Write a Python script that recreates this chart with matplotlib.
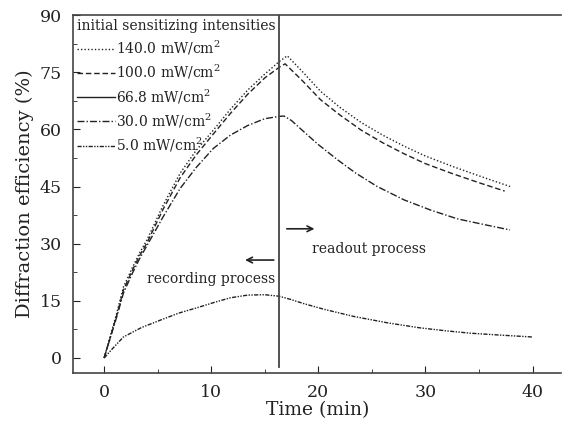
import numpy as np
import matplotlib
matplotlib.use("Agg")
import matplotlib.pyplot as plt
from matplotlib.ticker import MultipleLocator

plt.rcParams['font.family'] = 'DejaVu Serif'
plt.rcParams['mathtext.fontset'] = 'dejavuserif'

INK = '#222222'

# curves (time in min, efficiency in %)
t_140 = [0, 0.6, 1.2, 1.8, 2.6, 3.3, 4.0, 5.5, 7.1, 8.6, 10.2, 11.8, 13.4, 15.0, 16.35,
         17.1, 18.5, 20.2, 22.0, 24.0, 26.0, 28.0, 30.0, 32.5, 35.0, 37.9]
e_140 = [0, 6.0, 12.0, 18.6, 23.5, 27.5, 31.0, 40.0, 48.5, 54.5, 59.8, 65.3, 70.3, 74.5, 77.8,
         79.3, 75.2, 70.0, 65.8, 61.8, 58.5, 55.6, 53.0, 50.3, 47.8, 45.0]

t_100 = [0, 0.6, 1.2, 1.8, 2.6, 3.3, 4.0, 5.5, 7.1, 8.6, 10.2, 11.8, 13.4, 15.0, 16.35,
         16.9, 18.5, 20.2, 22.0, 24.0, 26.0, 28.0, 30.0, 32.5, 35.0, 37.4]
e_100 = [0, 5.6, 11.4, 17.8, 22.8, 26.8, 30.2, 39.0, 47.3, 53.3, 58.8, 64.2, 69.2, 73.5, 76.3,
         77.2, 72.8, 67.8, 63.8, 59.8, 56.5, 53.6, 51.0, 48.4, 46.0, 43.8]

t_30 = [0, 0.6, 1.2, 1.8, 2.6, 3.3, 4.0, 5.5, 7.1, 8.6, 10.2, 11.8, 13.4, 15.0, 16.35,
        16.8, 17.5, 18.6, 20.0, 21.8, 23.5, 25.5, 28.0, 30.5, 33.0, 35.5, 37.9]
e_30 = [0, 5.5, 11.0, 17.0, 22.0, 26.0, 29.5, 37.0, 44.5, 50.0, 55.0, 58.5, 61.0, 62.8, 63.4,
        63.5, 62.3, 59.5, 56.0, 52.0, 48.5, 45.0, 41.5, 38.8, 36.5, 35.0, 33.6]

t_5 = [0, 0.8, 1.8, 3.5, 5.5, 7.0, 8.7, 10.3, 11.8, 13.4, 15.0, 16.35,
       17.5, 18.6, 20.5, 23.3, 26.5, 29.5, 32.0, 34.2, 37.0, 40.0]
e_5 = [0, 2.5, 5.5, 8.0, 10.2, 11.8, 13.2, 14.6, 15.8, 16.5, 16.6, 16.2,
       15.3, 14.3, 12.8, 10.9, 9.2, 7.9, 7.1, 6.5, 6.0, 5.5]

switch_time = 16.35

labels = ['140.0 mW/cm$^2$', '100.0 mW/cm$^2$', '66.8 mW/cm$^2$',
          '30.0 mW/cm$^2$', '5.0 mW/cm$^2$']

fig = plt.figure(figsize=(5.62, 4.30), dpi=100)
ax = fig.add_axes([0.130, 0.1326, 0.869, 0.8324])

lw = 1.0
ax.plot(t_140, e_140, color=INK, lw=lw, linestyle=(0, (1, 1.5)), label=labels[0])
ax.plot(t_100, e_100, color=INK, lw=lw, linestyle=(0, (4, 2)), label=labels[1])
ax.plot([], [], color=INK, lw=lw, linestyle='-', label=labels[2])
ax.plot(t_30, e_30, color=INK, lw=lw, linestyle=(0, (5, 1.5, 1, 1.5)), label=labels[3])
ax.plot(t_5, e_5, color=INK, lw=lw, linestyle=(0, (3, 1, 1, 1, 1, 1)), label=labels[4])

ax.axvline(switch_time, ymin=0.017, ymax=1, color='#444444', lw=1.3)

# arrows and process labels
ax.annotate('', xy=(19.9, 33.9), xytext=(16.8, 33.9),
            arrowprops=dict(arrowstyle='->', color=INK, lw=1.2))
ax.annotate('', xy=(12.9, 25.7), xytext=(16.1, 25.7),
            arrowprops=dict(arrowstyle='->', color=INK, lw=1.2))
ax.text(19.4, 28.6, 'readout process', fontsize=10, color=INK, va='center')
ax.text(4.0, 20.7, 'recording process', fontsize=10, color=INK, va='center')

ax.set_xlim(-2.9, 42.7)
ax.set_ylim(-3.94, 90)
ax.xaxis.set_major_locator(MultipleLocator(10))
ax.xaxis.set_minor_locator(MultipleLocator(5))
ax.yaxis.set_major_locator(MultipleLocator(15))
ax.yaxis.set_minor_locator(MultipleLocator(7.5))
ax.tick_params(which='both', direction='in', colors=INK, labelsize=12.5, pad=8)
ax.tick_params(which='major', length=5)
ax.tick_params(which='minor', length=3)
ax.tick_params(top=False, right=False, which='both')

for side in ['left', 'bottom', 'top']:
    ax.spines[side].set_color('#444444')
    ax.spines[side].set_linewidth(1.2)
ax.spines['right'].set_visible(False)

ax.set_xlabel('Time (min)', fontsize=13.5, color=INK, labelpad=0)
ax.set_ylabel('Diffraction efficiency (%)', fontsize=14, color=INK, labelpad=4)

leg = ax.legend(loc='upper left', bbox_to_anchor=(0, 1), borderaxespad=0,
                borderpad=0.3, frameon=False, fontsize=10, handlelength=2.7,
                handletextpad=0.1, labelspacing=0.42,
                title='initial sensitizing intensities', title_fontsize=10,
                alignment='left')
for txt in leg.get_texts():
    txt.set_color(INK)
leg.get_title().set_color(INK)

fig.savefig('out.png', dpi=100)
